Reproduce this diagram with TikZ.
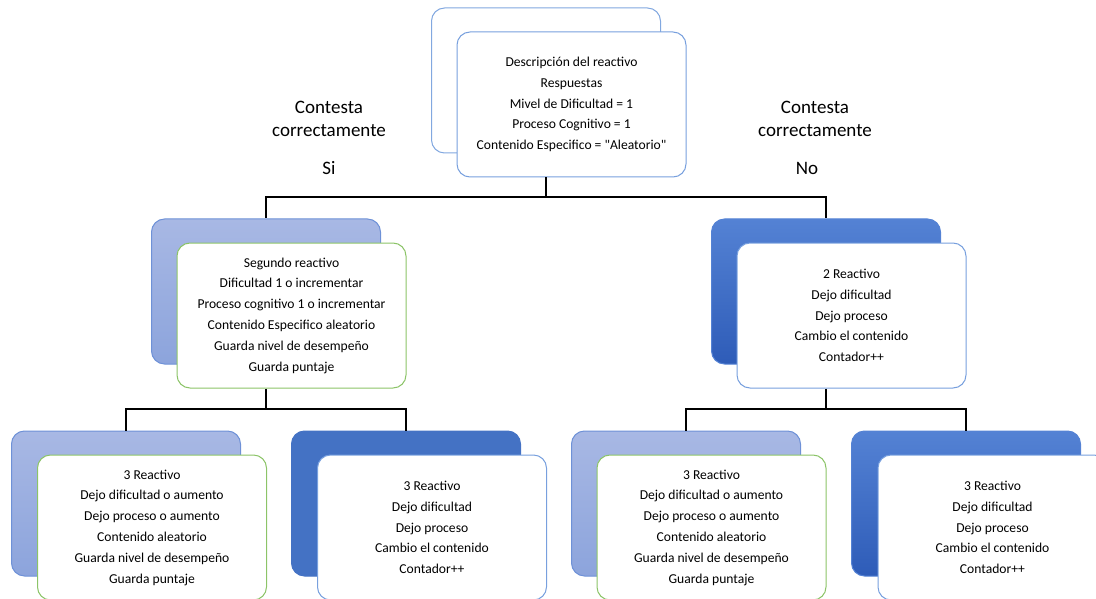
\documentclass[tikz,border=0pt]{standalone}
\usepackage{fontspec}
\setmainfont{Carlito}[Ligatures=TeXOff]
\definecolor{lnblue}{RGB}{120,160,222}
\definecolor{lnblue2}{RGB}{130,168,224}
\definecolor{lngreen}{RGB}{140,196,104}
\definecolor{ltedge}{RGB}{110,145,215}
\definecolor{lttop}{RGB}{168,184,228}
\definecolor{ltbot}{RGB}{140,164,220}
\definecolor{dktop}{RGB}{84,130,212}
\definecolor{dkbot}{RGB}{46,92,184}
\definecolor{solid}{RGB}{68,114,196}
\tikzset{
  box/.style={rectangle, rounded corners=13pt, minimum width=229pt, minimum height=145pt, line width=1pt, inner sep=0pt},
  backw/.style={box, draw=lnblue2, fill=white},
  backl/.style={box, draw=ltedge, top color=lttop, bottom color=ltbot},
  backd/.style={box, draw=dktop, top color=dktop, bottom color=dkbot},
  backs/.style={box, draw=solid, fill=solid},
  frontb/.style={box, draw=lnblue, fill=white, align=center, font=\fontsize{13.6}{20.8}\selectfont},
  frontg/.style={box, draw=lngreen, fill=white, align=center, font=\fontsize{13.6}{20.8}\selectfont},
  conn/.style={draw=black, line width=2pt},
  lbl/.style={font=\fontsize{19}{23}\selectfont, align=center}
}
\begin{document}
\begin{tikzpicture}[x=1pt,y=-1pt]
\useasboundingbox (0,0) rectangle (1096,599);
\clip (0,0) rectangle (1096,599);
% bus junctions
\coordinate (bus1) at (546,197);
\coordinate (bus2) at (266,409);
\coordinate (bus3) at (826,409);
% boxes
\node[backw] (topB) at (546,80.5) {};
\node[frontb] (topF) at (571.5,104.5) {Descripción del reactivo\\Respuestas\\Mivel de Dificultad = 1\\Proceso Cognitivo = 1\\Contenido Especifico = "Aleatorio"};
\node[backl] (l2lB) at (266,291.5) {};
\node[frontg] (l2lF) at (291.5,315.5) {Segundo reactivo\\Dificultad 1 o incrementar\\Proceso cognitivo 1 o incrementar\\Contenido Especifico aleatorio\\Guarda nivel de desempeño\\Guarda puntaje};
\node[backd] (l2rB) at (826,291.5) {};
\node[frontb] (l2rF) at (851.5,315.5) {2 Reactivo\\Dejo dificultad\\Dejo proceso\\Cambio el contenido\\Contador++};
\node[backl] (l3aB) at (126,503.5) {};
\node[frontg] (l3aF) at (152,527.5) {3 Reactivo\\Dejo dificultad o aumento\\Dejo proceso o aumento\\Contenido aleatorio\\Guarda nivel de desempeño\\Guarda puntaje};
\node[backs] (l3bB) at (406,503.5) {};
\node[frontb] (l3bF) at (432,527.5) {3 Reactivo\\Dejo dificultad\\Dejo proceso\\Cambio el contenido\\Contador++};
\node[backl] (l3cB) at (686,503.5) {};
\node[frontg] (l3cF) at (711.5,527.5) {3 Reactivo\\Dejo dificultad o aumento\\Dejo proceso o aumento\\Contenido aleatorio\\Guarda nivel de desempeño\\Guarda puntaje};
\node[backd] (l3dB) at (966,503.5) {};
\node[frontb] (l3dF) at (992.5,527.5) {3 Reactivo\\Dejo dificultad\\Dejo proceso\\Cambio el contenido\\Contador++};
% connectors
\draw[conn] (topB.south |- topF.south) -- (bus1) -| (l2lB.north);
\draw[conn] (bus1) -| (l2rB.north);
\draw[conn] (l2lB.south |- l2lF.south) -- (bus2) -| (l3aB.north);
\draw[conn] (bus2) -| (l3bB.north);
\draw[conn] (l2rB.south |- l2rF.south) -- (bus3) -| (l3cB.north);
\draw[conn] (bus3) -| (l3dB.north);
% labels
\node[lbl] (lq) at (329,119) {Contesta\\correctamente};
\node[lbl] (ls) at (329,168) {Si};
\node[lbl] (rq) at (815,119) {Contesta\\correctamente};
\node[lbl] (rn) at (807,168) {No};
\end{tikzpicture}
\end{document}
